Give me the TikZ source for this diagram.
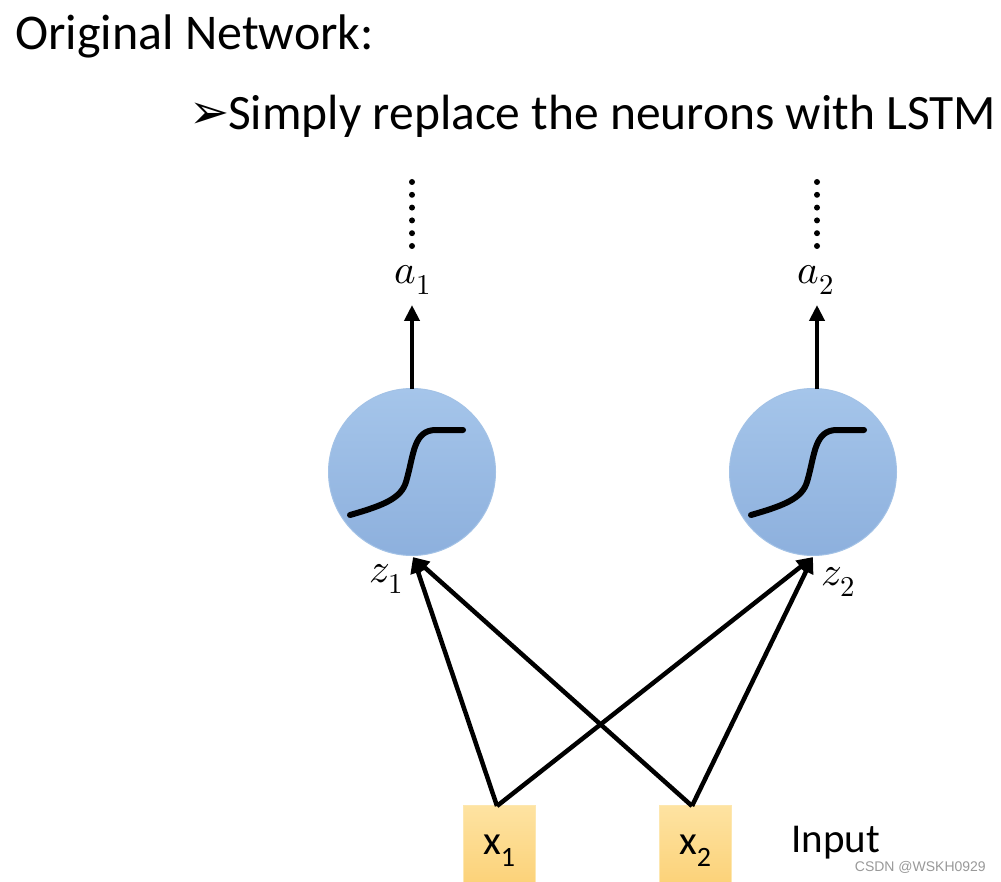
\documentclass[tikz,border=0pt]{standalone}
\usepackage{fontspec}
\usepackage{unicode-math}
\setmainfont{Carlito}
\setmathfont{Latin Modern Math}
\newfontfamily\symfont{DejaVu Sans}
\newfontfamily\wmfont{Liberation Sans}
\usetikzlibrary{arrows.meta}
\definecolor{cirtop}{HTML}{A5C5EA}
\definecolor{cirbot}{HTML}{8DB0DD}
\definecolor{cirline}{HTML}{A3C2E6}
\definecolor{boxtop}{HTML}{FEE3A2}
\definecolor{boxbot}{HTML}{FBCF72}
\definecolor{boxline}{HTML}{FDE7B0}
\tikzset{
  neuron/.style={circle, minimum size=167pt, inner sep=0pt, draw=cirline, line width=1pt, top color=cirtop, bottom color=cirbot},
  inbox/.style={rectangle, minimum width=72pt, minimum height=92pt, inner sep=0pt, draw=boxline, line width=1pt, top color=boxtop, bottom color=boxbot, font=\fontsize{41}{42}\selectfont},
  conn/.style={line width=4.5pt, -{Triangle[length=16pt,width=15pt]}},
  sig/.style={line width=6pt, line cap=round},
  lbl/.style={inner sep=0pt, font=\fontsize{41}{44}\selectfont},
  dotline/.style={line width=6pt, line cap=round, dash pattern=on 0pt off 12.8pt}
}
\begin{document}
\begin{tikzpicture}[x=1pt,y=-1pt]
\useasboundingbox[fill=white] (0,0) rectangle (1001,882);
% titles
\node[anchor=base west, inner sep=0pt, font=\fontsize{50}{52}\selectfont] (title) at (15,50) {Original Network:};
\node[anchor=base west, inner sep=0pt, font=\fontsize{48}{50}\symfont] (bullet) at (189,129) {➢};
\node[anchor=base west, inner sep=0pt, font=\fontsize{49.5}{52}\selectfont] (sub) at (228,130) {Simply replace the neurons with LSTM};
% neurons
\node[neuron] (n1) at (412,472) {};
\node[neuron] (n2) at (813,472) {};
% sigmoid curves
\draw[sig] (350,515) .. controls (385,505) and (401,498) .. (406,482) .. controls (414,455) and (413,430) .. (436,430) -- (463,430);
\draw[sig] (751,515) .. controls (786,505) and (802,498) .. (807,482) .. controls (815,455) and (814,430) .. (837,430) -- (864,430);
% outputs
\node[lbl] (a1) at (413,280) {$a_1$};
\node[lbl] (a2) at (816,280) {$a_2$};
\coordinate (t1) at (412,305);
\coordinate (t2) at (817,305);
\draw[conn] (412,389) -- (t1);
\draw[conn] (817,389) -- (t2);
\coordinate (d1a) at (412,182);
\coordinate (d1b) at (412,247);
\coordinate (d2a) at (817,182);
\coordinate (d2b) at (817,247);
\draw[dotline] (d1a) -- (d1b);
\draw[dotline] (d2a) -- (d2b);
% z labels
\node[lbl] (z1) at (386,579) {$z_1$};
\node[lbl] (z2) at (838,582) {$z_2$};
% inputs
\node[inbox] (x1) at (499,851) {x{\fontsize{28}{28}\selectfont\raisebox{-12pt}{1}}};
\node[inbox] (x2) at (695,851) {x{\fontsize{28}{28}\selectfont\raisebox{-12pt}{2}}};
\coordinate (x1t) at (497,806);
\coordinate (x2t) at (692,806);
\coordinate (z1b) at (413,557);
\coordinate (z2b) at (813,557);
\draw[conn] (x1t) -- (z1b);
\draw[conn] (x1t) -- (z2b);
\draw[conn] (x2t) -- (z1b);
\draw[conn] (x2t) -- (z2b);
\node[anchor=base west, inner sep=0pt, font=\fontsize{41}{42}\selectfont] (inp) at (791,852) {Input};
\node[anchor=base east, inner sep=0pt, text=gray!80, font=\fontsize{14}{15}\wmfont] (wm) at (986,871) {CSDN @WSKH0929};
\end{tikzpicture}
\end{document}
